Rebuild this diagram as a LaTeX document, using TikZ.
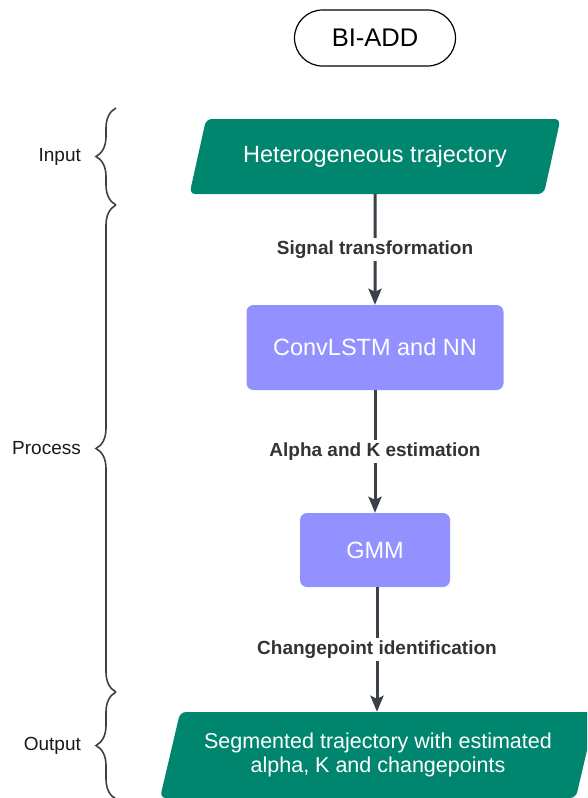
\documentclass[tikz,border=0pt]{standalone}
\usepackage{fontspec}
\setmainfont{Liberation Sans}
\usetikzlibrary{shapes.geometric, arrows.meta, decorations.pathreplacing}
\definecolor{addteal}{HTML}{00866F}
\definecolor{addpurple}{HTML}{9391FF}
\definecolor{addgray}{HTML}{3B4049}
\definecolor{addtext}{HTML}{333333}
\begin{document}
\begin{tikzpicture}[
				x=1pt, y=-1pt,
				io/.style = {trapezium, trapezium left angle=77.5, trapezium right angle=102.5, trapezium stretches body,
						fill=addteal, text=white, rounded corners=6pt, align=center, inner xsep=0pt},
				proc/.style = {rectangle, fill=addpurple, text=white, rounded corners=7pt,
						font=\fontsize{23.5}{27}\selectfont},
				flow/.style = {-{Stealth[length=16pt, width=13pt, inset=3pt]}, line width=3pt, draw=addgray},
				steplabel/.style = {fill=white, text=addtext, inner sep=3pt, font=\bfseries\fontsize{19}{22}\selectfont},
				stage/.style = {decorate, decoration={brace, amplitude=20pt}, line width=1.6pt, draw=addgray},
				stagelabel/.style = {left=31pt, text=black!90, font=\fontsize{19}{22}\selectfont},
			]
			\useasboundingbox (0,0) rectangle (587,798);
			\clip (0,0) rectangle (587,798);
			% title
			\node[draw, line width=1.2pt, rounded corners=28pt, minimum width=161pt, minimum height=56pt,
				font=\fontsize{25.5}{29}\selectfont] (title) at (375,38) {BI-ADD};
			% flow
			\node[io, minimum width=371pt, text height=17pt, text depth=5pt, inner ysep=26.5pt,
				font=\fontsize{23.5}{27}\selectfont] (input) at (375,156.5) {Heterogeneous trajectory};
			\node[proc, minimum width=257pt, minimum height=85pt] (conv) at (375,347.5) {ConvLSTM and NN};
			\node[proc, minimum width=150pt, minimum height=74pt] (gmm) at (375,550) {GMM};
			\node[io, trapezium left angle=76.8, trapezium right angle=103.2, minimum width=436pt,
				text height=40pt, text depth=5pt, inner ysep=20.5pt,
				font=\fontsize{21.5}{24.5}\selectfont] (output) at (378,755)
				{Segmented trajectory with estimated\\alpha, K and changepoints};
			\draw[flow] (input) -- node[steplabel] {Signal transformation} (conv);
			\draw[flow] (conv) -- node[steplabel] {Alpha and K estimation} (gmm);
			\draw[flow] (gmm.south) ++(2,0) coordinate (gmmout) -- node[steplabel] {Changepoint identification} (gmmout |- output.north);
			% stages
			\draw[stage] (116,205) -- (116,108) node[midway, stagelabel] (inlabel) {Input};
			\draw[stage] (116,692) -- (116,205) node[midway, stagelabel] (proclabel) {Process};
			\draw[stage] (116,799) -- (116,692) node[midway, stagelabel] (outlabel) {Output};
		\end{tikzpicture}
\end{document}
